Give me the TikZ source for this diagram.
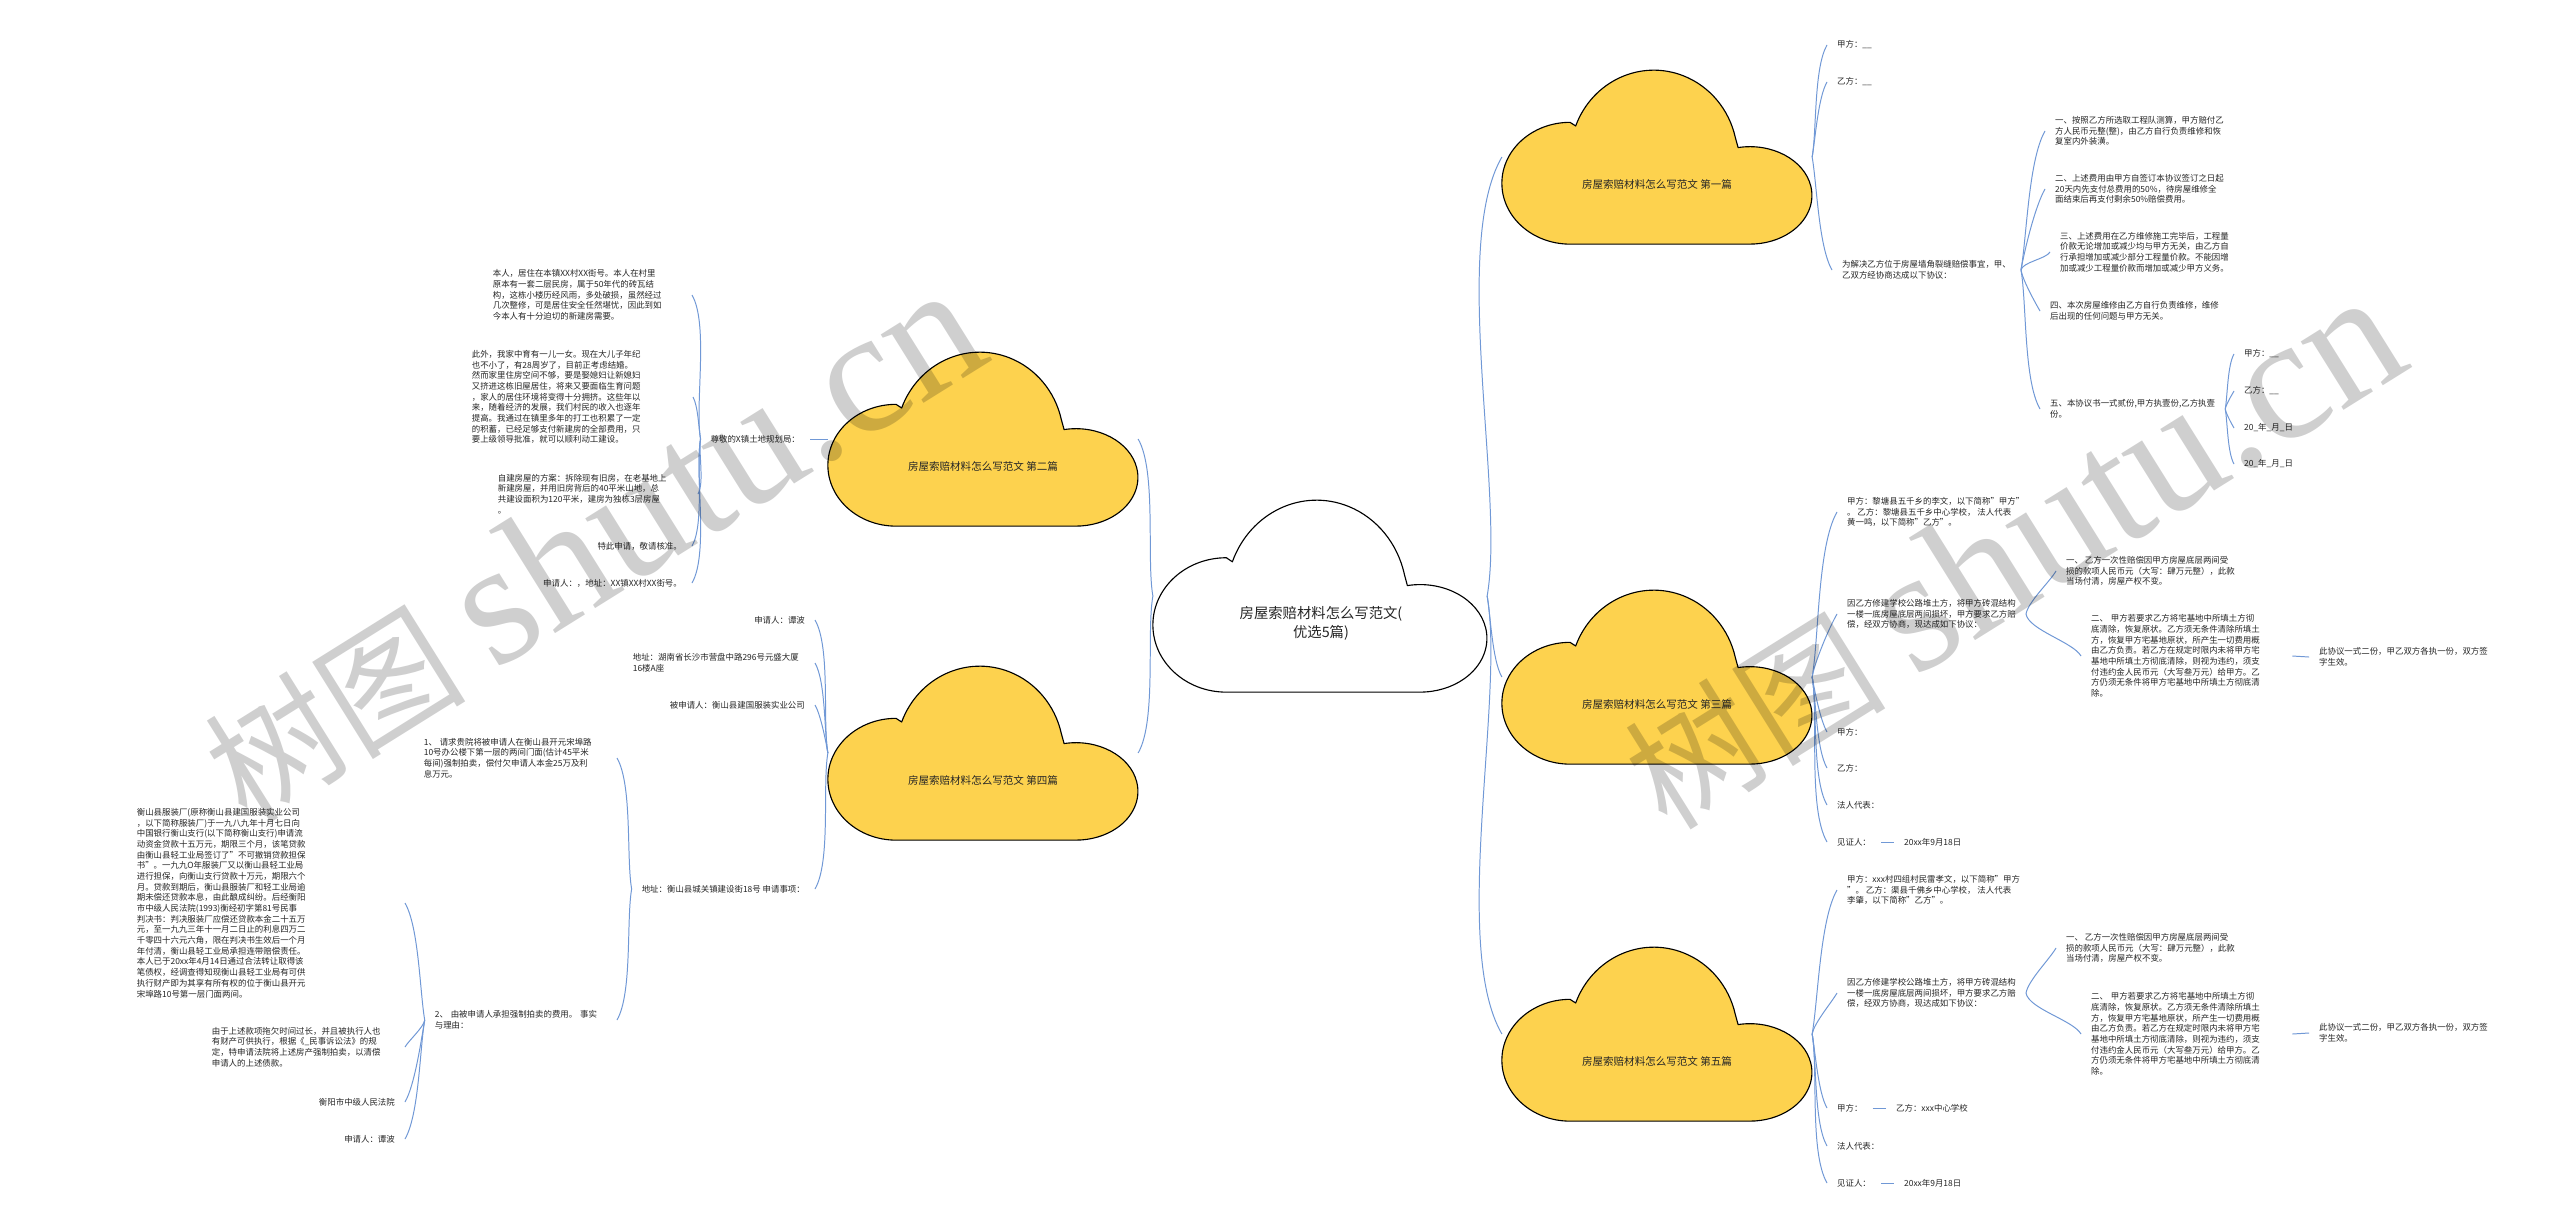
\documentclass[tikz,border=0pt]{standalone}
\usepackage{fontspec}
\setmainfont{Noto Sans CJK SC}
\newfontfamily\wmfont{Liberation Serif}
\usetikzlibrary{positioning}

\definecolor{linkblue}{RGB}{112,152,214}
\definecolor{cloudyellow}{RGB}{253,210,78}

\tikzset{
  pics/cloud/.style n args={3}{code={
    \filldraw[fill=#1, draw=black, line width=1.6pt, line join=round, xscale=#2, yscale=-#3]
      (0.22,0) arc[start angle=-90, end angle=-270, x radius=0.22, y radius=0.35]
      -- (0.238,0.679) arc[start angle=159, end angle=13, x radius=0.27, y radius=0.5]
      -- (0.762,0.555) arc[start angle=101, end angle=-90, x radius=0.2, y radius=0.28]
      -- cycle;
  }},
}

\begin{document}
\begin{tikzpicture}[x=0.05cm, y=-0.05cm,
  txt/.style={inner xsep=0.5cm, inner ysep=0.1cm, align=left, text=black!85, font=\fontsize{12pt}{15.2pt}\selectfont},
  rt/.style={txt, anchor=west},
  lt/.style={txt, anchor=east},
  link/.style={draw=linkblue, line width=1.4pt},
  ru/.style={out=80, in=240, looseness=0.6},
  rd/.style={out=-80, in=120, looseness=0.6},
  lu/.style={out=100, in=-60, looseness=0.6},
  ld/.style={out=-100, in=60, looseness=0.6},
  cbox/.style={inner sep=0pt, minimum width=15.5cm, minimum height=8.7cm},
  ttl/.style={text=black!85, font=\fontsize{15pt}{18pt}\selectfont},
  wmark/.style={text=black, text opacity=0.19, rotate=32, inner sep=0pt, font=\fontsize{186pt}{186pt}\selectfont}]

\useasboundingbox (0,0) rectangle (2560,1228);
\fill[white] (0,0) rectangle (2560,1228);

% main topic
\node[inner sep=0pt, minimum width=16.7cm, minimum height=9.6cm] (m) at (1320,596) {};
\pic at (m.south west) {cloud={white}{334}{192}};
\node[text=black!85, font=\fontsize{20.4pt}{27pt}\selectfont, align=center] (m-t) at (1321,623) {房屋索赔材料怎么写范文(\\优选5篇)};

% the five clouds
\foreach \n/\x/\y/\t in {p1/1657/157/第一篇, p3/1657/677/第三篇, p5/1657/1034/第五篇, p2/983/439/第二篇, p4/983/753/第四篇}{
  \node[cbox] (\n) at (\x,\y) {};
  \pic at (\n.south west) {cloud={cloudyellow}{310}{174}};
  \node[ttl] (\n-t) at (\x,\y+27) {房屋索赔材料怎么写范文 \t};
}

% 第一篇
\node[rt] (a1) at (1827,45) {甲方：\_\_};
\node[rt] (a2) at (1827,82) {乙方：\_\_};
\node[rt] (a3) at (1832,270) {为解决乙方位于房屋墙角裂缝赔偿事宜，甲、\\乙双方经协商达成以下协议：};
\node[rt] (b1) at (2045,131) {一、按照乙方所选取工程队测算，甲方赔付乙\\方人民币元整(整)，由乙方自行负责维修和恢\\复室内外装潢。};
\node[rt] (b2) at (2045,189) {二、上述费用由甲方自签订本协议签订之日起\\20天内先支付总费用的50\%，待房屋维修全\\面结束后再支付剩余50\%赔偿费用。};
\node[rt] (b3) at (2050,252) {三、上述费用在乙方维修施工完毕后，工程量\\价款无论增加或减少均与甲方无关，由乙方自\\行承担增加或减少部分工程量价款。不能因增\\加或减少工程量价款而增加或减少甲方义务。};
\node[rt] (b4) at (2040,311) {四、本次房屋维修由乙方自行负责维修，维修\\后出现的任何问题与甲方无关。};
\node[rt] (b5) at (2040,409) {五、本协议书一式贰份,甲方执壹份,乙方执壹\\份。};
\node[rt] (c1) at (2234,354) {甲方：\_\_};
\node[rt] (c2) at (2234,391) {乙方：\_\_};
\node[rt] (c3) at (2234,428) {20\_年\_月\_日};
\node[rt] (c4) at (2234,464) {20\_年\_月\_日};

% 第三篇
\node[rt] (d1) at (1837,512) {甲方：黎塘县五千乡的李文，以下简称"甲方"\\。 乙方：黎塘县五千乡中心学校， 法人代表\\黄一鸣，以下简称"乙方"。};
\node[rt] (d2) at (1837,614) {因乙方修建学校公路堆土方，将甲方砖混结构\\一楼一底房屋底层两间损坏，甲方要求乙方赔\\偿，经双方协商，现达成如下协议：};
\node[rt] (d3) at (1827,732) {甲方：};
\node[rt] (d4) at (1827,768) {乙方：};
\node[rt] (d5) at (1827,805) {法人代表：};
\node[rt] (d6) at (1827,842) {见证人：};
\node[rt] (d7) at (1894,842) {20xx年9月18日};
\node[rt] (e1) at (2056,571) {一、 乙方一次性赔偿因甲方房屋底层两间受\\损的款项人民币元（大写：肆万元整），此款\\当场付清，房屋产权不变。};
\node[rt, text width=9.55cm] (e2) at (2081,656) {二、 甲方若要求乙方将宅基地中所填土方彻\\底清除，恢复原状。乙方须无条件清除所填土\\方，恢复甲方宅基地原状，所产生一切费用概\\由乙方负责。若乙方在规定时限内未将甲方宅\\基地中所填土方彻底清除，则视为违约，须支\\付违约金人民币元（大写叁万元）给甲方。乙\\方仍须无条件将甲方宅基地中所填土方彻底清\\除。};
\node[rt] (e3) at (2309,657) {此协议一式二份，甲乙双方各执一份，双方签\\字生效。};

% 第五篇
\node[rt] (f1) at (1837,890) {甲方：xxx村四组村民雷孝文，以下简称"甲方\\"。 乙方：渠县千佛乡中心学校， 法人代表\\李肇，以下简称"乙方"。};
\node[rt] (f2) at (1837,993) {因乙方修建学校公路堆土方，将甲方砖混结构\\一楼一底房屋底层两间损坏，甲方要求乙方赔\\偿，经双方协商，现达成如下协议：};
\node[rt] (f3) at (1827,1108) {甲方：};
\node[rt] (f6) at (1886,1108) {乙方：xxx中心学校};
\node[rt] (f4) at (1827,1146) {法人代表：};
\node[rt] (f5) at (1827,1183) {见证人：};
\node[rt] (f7) at (1894,1183) {20xx年9月18日};
\node[rt] (g1) at (2056,948) {一、 乙方一次性赔偿因甲方房屋底层两间受\\损的款项人民币元（大写：肆万元整），此款\\当场付清，房屋产权不变。};
\node[rt, text width=9.55cm] (g2) at (2081,1034) {二、 甲方若要求乙方将宅基地中所填土方彻\\底清除，恢复原状。乙方须无条件清除所填土\\方，恢复甲方宅基地原状，所产生一切费用概\\由乙方负责。若乙方在规定时限内未将甲方宅\\基地中所填土方彻底清除，则视为违约，须支\\付违约金人民币元（大写叁万元）给甲方。乙\\方仍须无条件将甲方宅基地中所填土方彻底清\\除。};
\node[rt] (g3) at (2309,1033) {此协议一式二份，甲乙双方各执一份，双方签\\字生效。};

% 第二篇
\node[lt] (h0) at (810,439) {尊敬的X镇土地规划局：};
\node[lt, text width=9.45cm] (h1) at (692,295) {本人，居住在本镇XX村XX街号。本人在村里\\原本有一套二层民房，属于50年代的砖瓦结\\构，这栋小楼历经风雨，多处破损，虽然经过\\几次整修，可是居住安全任然堪忧，因此到如\\今本人有十分迫切的新建房需要。};
\node[lt, text width=10.55cm] (h2) at (693,397) {此外，我家中育有一儿一女。现在大儿子年纪\\也不小了，有28周岁了，目前正考虑结婚。\\然而家里住房空间不够，要是娶媳妇让新媳妇\\又挤进这栋旧屋居住，将来又要面临生育问题\\，家人的居住环境将变得十分拥挤。这些年以\\来，随着经济的发展，我们村民的收入也逐年\\提高。我通过在镇里多年的打工也积累了一定\\的积蓄，已经足够支付新建房的全部费用，只\\要上级领导批准，就可以顺利动工建设。};
\node[lt, text width=9.5cm] (h3) at (698,494) {自建房屋的方案：拆除现有旧房，在老基地上\\新建房屋，并用旧房背后的40平米山地，总\\共建设面积为120平米，建房为独栋3层房屋\\。};
\node[lt] (h4) at (692,546) {特此申请，敬请核准。};
\node[lt] (h5) at (692,583) {申请人：，地址：XX镇XX村XX街号。};

% 第四篇
\node[lt] (k1) at (815,620) {申请人：谭波};
\node[lt, text width=8.6cm] (k2) at (815,663) {地址：湖南省长沙市营盘中路296号元盛大厦\\16楼A座};
\node[lt] (k3) at (815,705) {被申请人：衡山县建国服装实业公司};
\node[lt] (k4) at (815,889) {地址：衡山县城关镇建设街18号 申请事项：};
\node[lt, text width=9.15cm] (m1) at (617,758) {1、 请求贵院将被申请人在衡山县开元宋埠路\\10号办公楼下第一层的两间门面(估计45平米\\每间)强制拍卖，偿付欠申请人本金25万及利\\息万元。};
\node[lt, text width=8.6cm] (m2) at (617,1020) {2、 由被申请人承担强制拍卖的费用。 事实\\与理由：};
\node[lt, text width=12.9cm] (n1) at (405,903) {衡山县服装厂(原称衡山县建国服装实业公司\\，以下简称服装厂)于一九八九年十月七日向\\中国银行衡山支行(以下简称衡山支行)申请流\\动资金贷款十五万元，期限三个月，该笔贷款\\由衡山县轻工业局签订了"不可撤销贷款担保\\书"。一九九O年服装厂又以衡山县轻工业局\\进行担保，向衡山支行贷款十万元，期限六个\\月。贷款到期后，衡山县服装厂和轻工业局逾\\期未偿还贷款本息，由此酿成纠纷。后经衡阳\\市中级人民法院(1993)衡经初字第81号民事\\判决书：判决服装厂应偿还贷款本金二十五万\\元，至一九九三年十一月二日止的利息四万二\\千零四十六元六角，限在判决书生效后一个月\\年付清，衡山县轻工业局承担连带赔偿责任。\\本人已于20xx年4月14日通过合法转让取得该\\笔债权，经调查得知现衡山县轻工业局有可供\\执行财产即为其享有所有权的位于衡山县开元\\宋埠路10号第一层门面两间。};
\node[lt, text width=9.15cm] (n2) at (405,1047) {由于上述款项拖欠时间过长，并且被执行人也\\有财产可供执行，根据《\_民事诉讼法》的规\\定，特申请法院将上述房产强制拍卖，以清偿\\申请人的上述债款。};
\node[lt] (n3) at (405,1102) {衡阳市中级人民法院};
\node[lt] (n4) at (405,1139) {申请人：谭波};

% links
\draw[link] (m.east) to[ru] (p1.west);
\draw[link] (m.east) to[rd] (p3.west);
\draw[link] (m.east) to[rd] (p5.west);
\draw[link] (m.west) to[lu] (p2.east);
\draw[link] (m.west) to[ld] (p4.east);

\foreach \n in {a1,a2} \draw[link] (p1.east) to[ru] (\n.west);
\draw[link] (p1.east) to[rd] (a3.west);
\foreach \n in {b1,b2,b3} \draw[link] (a3.east) to[ru] (\n.west);
\foreach \n in {b4,b5} \draw[link] (a3.east) to[rd] (\n.west);
\foreach \n in {c1,c2} \draw[link] (b5.east) to[ru] (\n.west);
\foreach \n in {c3,c4} \draw[link] (b5.east) to[rd] (\n.west);

\foreach \n in {d1,d2} \draw[link] (p3.east) to[ru] (\n.west);
\foreach \n in {d3,d4,d5,d6} \draw[link] (p3.east) to[rd] (\n.west);
\draw[link] (d6.east) -- (d7.west);
\draw[link] (d2.east) to[ru] (e1.west);
\draw[link] (d2.east) to[rd] (e2.west);
\draw[link] (e2.east) -- (e3.west);

\foreach \n in {f1,f2} \draw[link] (p5.east) to[ru] (\n.west);
\foreach \n in {f3,f4,f5} \draw[link] (p5.east) to[rd] (\n.west);
\draw[link] (f3.east) -- (f6.west);
\draw[link] (f5.east) -- (f7.west);
\draw[link] (f2.east) to[ru] (g1.west);
\draw[link] (f2.east) to[rd] (g2.west);
\draw[link] (g2.east) -- (g3.west);

\draw[link] (p2.west) -- (h0.east);
\foreach \n in {h1,h2} \draw[link] (h0.west) to[lu] (\n.east);
\foreach \n in {h3,h4,h5} \draw[link] (h0.west) to[ld] (\n.east);

\foreach \n in {k1,k2,k3} \draw[link] (p4.west) to[lu] (\n.east);
\draw[link] (p4.west) to[ld] (k4.east);
\draw[link] (k4.west) to[lu] (m1.east);
\draw[link] (k4.west) to[ld] (m2.east);
\draw[link] (m2.west) to[lu] (n1.east);
\foreach \n in {n2,n3,n4} \draw[link] (m2.west) to[ld] (\n.east);

% watermark
\node[wmark] (wm1) at (592,545) {树图 {\wmfont\fontsize{250pt}{250pt}\selectfont shutu.cn}};
\node[wmark] (wm2) at (2012,552) {树图 {\wmfont\fontsize{250pt}{250pt}\selectfont shutu.cn}};
\end{tikzpicture}
\end{document}
